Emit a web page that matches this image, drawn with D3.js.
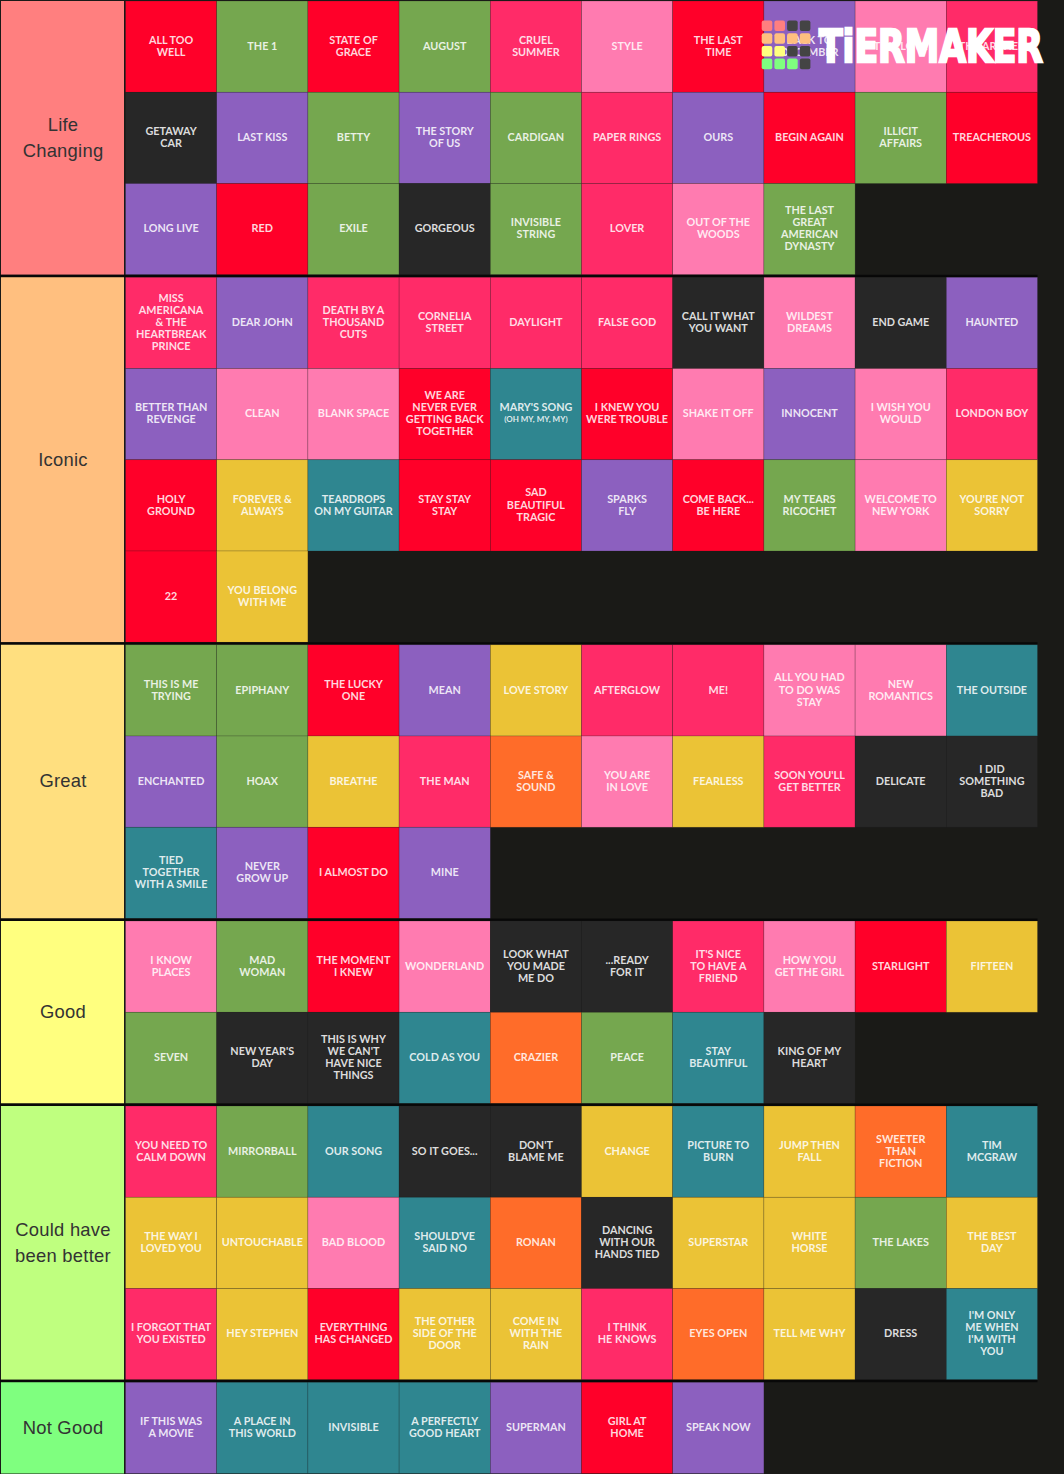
<!DOCTYPE html>
<html>
<head>
<meta charset="utf-8">
<script src="https://cdn.jsdelivr.net/npm/d3@7"></script>
<style>
html, body { margin: 0; padding: 0; background: #1a1a17; }
svg { display: block; }
</style>
</head>
<body>
<svg id="chart"></svg>
<script>
// tiers, top to bottom
var tierLabels = ["Life|Changing", "Iconic", "Great", "Good", "Could have|been better", "Not Good"];
var tierColors = ["#ff7f7f", "#ffbf7f", "#ffdf7f", "#ffff7f", "#bfff7f", "#7fff7f"];

// album of each song decides the cell colour
var albumKeys = ["red", "folklore", "speakNow", "lover", "style1989", "reputation", "debut", "fearless", "other"];
var albumColors = ["#ff0029", "#75a74f", "#8c60bf", "#ff2b68", "#ff7bb0", "#272727", "#2f8690", "#ebc336", "#ff6c29"];

// "|" is a line break on the tile
var lifeChangingSongs = ["ALL TOO|WELL", "THE 1", "STATE OF|GRACE", "AUGUST", "CRUEL|SUMMER", "STYLE", "THE LAST|TIME", "BACK TO|DECEMBER", "THIS LOVE", "THE ARCHER",
  "GETAWAY|CAR", "LAST KISS", "BETTY", "THE STORY|OF US", "CARDIGAN", "PAPER RINGS", "OURS", "BEGIN AGAIN", "ILLICIT|AFFAIRS", "TREACHEROUS",
  "LONG LIVE", "RED", "EXILE", "GORGEOUS", "INVISIBLE|STRING", "LOVER", "OUT OF THE|WOODS", "THE LAST|GREAT|AMERICAN|DYNASTY"];
var lifeChangingAlbums = ["red", "folklore", "red", "folklore", "lover", "style1989", "red", "speakNow", "style1989", "lover",
  "reputation", "speakNow", "folklore", "speakNow", "folklore", "lover", "speakNow", "red", "folklore", "red",
  "speakNow", "red", "folklore", "reputation", "folklore", "lover", "style1989", "folklore"];

var iconicSongs = ["MISS|AMERICANA|& THE|HEARTBREAK|PRINCE", "DEAR JOHN", "DEATH BY A|THOUSAND|CUTS", "CORNELIA|STREET", "DAYLIGHT", "FALSE GOD", "CALL IT WHAT|YOU WANT", "WILDEST|DREAMS", "END GAME", "HAUNTED",
  "BETTER THAN|REVENGE", "CLEAN", "BLANK SPACE", "WE ARE|NEVER EVER|GETTING BACK|TOGETHER", "MARY'S SONG|(OH MY, MY, MY)", "I KNEW YOU|WERE TROUBLE", "SHAKE IT OFF", "INNOCENT", "I WISH YOU|WOULD", "LONDON BOY",
  "HOLY|GROUND", "FOREVER &|ALWAYS", "TEARDROPS|ON MY GUITAR", "STAY STAY|STAY", "SAD|BEAUTIFUL|TRAGIC", "SPARKS|FLY", "COME BACK...|BE HERE", "MY TEARS|RICOCHET", "WELCOME TO|NEW YORK", "YOU'RE NOT|SORRY",
  "22", "YOU BELONG|WITH ME"];
var iconicAlbums = ["lover", "speakNow", "lover", "lover", "lover", "lover", "reputation", "style1989", "reputation", "speakNow",
  "speakNow", "style1989", "style1989", "red", "debut", "red", "style1989", "speakNow", "style1989", "lover",
  "red", "fearless", "debut", "red", "red", "speakNow", "red", "folklore", "style1989", "fearless",
  "red", "fearless"];

var greatSongs = ["THIS IS ME|TRYING", "EPIPHANY", "THE LUCKY|ONE", "MEAN", "LOVE STORY", "AFTERGLOW", "ME!", "ALL YOU HAD|TO DO WAS|STAY", "NEW|ROMANTICS", "THE OUTSIDE",
  "ENCHANTED", "HOAX", "BREATHE", "THE MAN", "SAFE &|SOUND", "YOU ARE|IN LOVE", "FEARLESS", "SOON YOU'LL|GET BETTER", "DELICATE", "I DID|SOMETHING|BAD",
  "TIED|TOGETHER|WITH A SMILE", "NEVER|GROW UP", "I ALMOST DO", "MINE"];
var greatAlbums = ["folklore", "folklore", "red", "speakNow", "fearless", "lover", "lover", "style1989", "style1989", "debut",
  "speakNow", "folklore", "fearless", "lover", "other", "style1989", "fearless", "lover", "reputation", "reputation",
  "debut", "speakNow", "red", "speakNow"];

var goodSongs = ["I KNOW|PLACES", "MAD|WOMAN", "THE MOMENT|I KNEW", "WONDERLAND", "LOOK WHAT|YOU MADE|ME DO", "...READY|FOR IT", "IT'S NICE|TO HAVE A|FRIEND", "HOW YOU|GET THE GIRL", "STARLIGHT", "FIFTEEN",
  "SEVEN", "NEW YEAR'S|DAY", "THIS IS WHY|WE CAN'T|HAVE NICE|THINGS", "COLD AS YOU", "CRAZIER", "PEACE", "STAY|BEAUTIFUL", "KING OF MY|HEART"];
var goodAlbums = ["style1989", "folklore", "red", "style1989", "reputation", "reputation", "lover", "style1989", "red", "fearless",
  "folklore", "reputation", "reputation", "debut", "other", "folklore", "debut", "reputation"];

var couldHaveSongs = ["YOU NEED TO|CALM DOWN", "MIRRORBALL", "OUR SONG", "SO IT GOES...", "DON'T|BLAME ME", "CHANGE", "PICTURE TO|BURN", "JUMP THEN|FALL", "SWEETER|THAN|FICTION", "TIM|MCGRAW",
  "THE WAY I|LOVED YOU", "UNTOUCHABLE", "BAD BLOOD", "SHOULD'VE|SAID NO", "RONAN", "DANCING|WITH OUR|HANDS TIED", "SUPERSTAR", "WHITE|HORSE", "THE LAKES", "THE BEST|DAY",
  "I FORGOT THAT|YOU EXISTED", "HEY STEPHEN", "EVERYTHING|HAS CHANGED", "THE OTHER|SIDE OF THE|DOOR", "COME IN|WITH THE|RAIN", "I THINK|HE KNOWS", "EYES OPEN", "TELL ME WHY", "DRESS", "I'M ONLY|ME WHEN|I'M WITH|YOU"];
var couldHaveAlbums = ["lover", "folklore", "debut", "reputation", "reputation", "fearless", "debut", "fearless", "other", "debut",
  "fearless", "fearless", "style1989", "debut", "other", "reputation", "fearless", "fearless", "folklore", "fearless",
  "lover", "fearless", "red", "fearless", "fearless", "lover", "other", "fearless", "reputation", "debut"];

var notGoodSongs = ["IF THIS WAS|A MOVIE", "A PLACE IN|THIS WORLD", "INVISIBLE", "A PERFECTLY|GOOD HEART", "SUPERMAN", "GIRL AT|HOME", "SPEAK NOW"];
var notGoodAlbums = ["speakNow", "debut", "debut", "debut", "speakNow", "red", "speakNow"];

var tierSongs = [lifeChangingSongs, iconicSongs, greatSongs, goodSongs, couldHaveSongs, notGoodSongs];
var tierAlbums = [lifeChangingAlbums, iconicAlbums, greatAlbums, goodAlbums, couldHaveAlbums, notGoodAlbums];

// watermark squares, row by row
var logoColors = [
  ["#ff7f7f", "#ff7f7f", "#444", "#444"],
  ["#ffbf7f", "#ffbf7f", "#ffbf7f", "#ffbf7f"],
  ["#ffff7f", "#ffff7f", "#444", "#444"],
  ["#7fff7f", "#7fff7f", "#7fff7f", "#444"]
];

var width = 1064, height = 1474;
var perRow = 10;
var labelW = 123;
var gridLeft = 125.5, gridRight = 1037.5;
var tierGap = 2.5, top0 = 1, rowH = 91.25;

var svg = d3.select("#chart").attr("width", width).attr("height", height);

var x = d3.scaleBand().domain(d3.range(perRow)).range([gridLeft, gridRight]);
var album = d3.scaleOrdinal().domain(albumKeys).range(albumColors);

// rows counted over the whole page, tier gaps added on top
var rowCounts = tierSongs.map(function(s) { return Math.ceil(s.length / perRow); });
var totalRows = d3.sum(rowCounts);
var y = d3.scaleLinear().domain([0, totalRows]).range([top0, top0 + totalRows * rowH]);

var rowsBefore = 0;
tierSongs.forEach(function(songs, t) {
  var rows = rowCounts[t];
  var tierTop = y(rowsBefore) + t * tierGap;
  var tierH = rows * rowH;

  var g = svg.append("g").attr("class", "tier");

  // the bar between two tiers is darker than the page
  if (t > 0) {
    g.append("rect")
      .attr("x", 0)
      .attr("y", tierTop - tierGap)
      .attr("width", gridRight)
      .attr("height", tierGap)
      .attr("fill", "#080808");
  }

  g.append("rect")
    .attr("x", 1)
    .attr("y", tierTop)
    .attr("width", labelW)
    .attr("height", tierH)
    .attr("fill", tierColors[t]);

  var labelLines = tierLabels[t].split("|");
  g.append("g").selectAll("text")
    .data(labelLines)
    .enter().append("text")
      .attr("x", 1.5 + labelW / 2)
      .attr("y", function(d, i) { return tierTop + tierH / 2 - 0.6 + (i - (labelLines.length - 1) / 2) * 25.6; })
      .attr("dy", "0.35em")
      .attr("text-anchor", "middle")
      .attr("font-family", "'Liberation Sans', Arial, sans-serif")
      .attr("font-size", 18.4)
      .attr("letter-spacing", 0.25)
      .attr("fill", "#333")
      .text(function(d) { return d; });

  var cells = g.selectAll(".cell")
    .data(songs.map(function(name, i) { return {name: name, album: tierAlbums[t][i], i: i}; }))
    .enter().append("g")
      .attr("class", "cell")
      .attr("transform", function(d) {
        return "translate(" + x(d.i % perRow) + "," + (tierTop + Math.floor(d.i / perRow) * rowH) + ")";
      });

  cells.append("rect")
    .attr("width", x.bandwidth())
    .attr("height", rowH)
    .attr("fill", function(d) { return album(d.album); })
    .attr("stroke", "rgba(30,30,30,0.35)")
    .attr("stroke-width", 0.6);

  cells.each(function(d) {
    var lines = d.name.split("|");
    d3.select(this).selectAll("text")
      .data(lines)
      .enter().append("text")
        .attr("x", x.bandwidth() / 2)
        .attr("y", function(l, i) { return rowH / 2 - 0.6 + (i - (lines.length - 1) / 2) * 12.1; })
        .attr("dy", "0.35em")
        .attr("text-anchor", "middle")
        .attr("font-family", "Lato, sans-serif")
        .attr("font-weight", 700)
        .attr("font-size", function(l) { return l.charAt(0) == "(" ? 8 : 10.8; })
        .attr("fill", "#fff")
        .attr("fill-opacity", 0.85)
        .text(function(l) { return l; });
  });

  rowsBefore += rows;
});

// TierMaker watermark sits over the first row
var logo = svg.append("g").attr("class", "logo");
logo.selectAll("g")
  .data(logoColors)
  .enter().append("g")
  .selectAll("rect")
  .data(function(row, r) { return row.map(function(c, i) { return {c: c, r: r, i: i}; }); })
  .enter().append("rect")
    .attr("x", function(d) { return 761.7 + d.i * 12.7; })
    .attr("y", function(d) { return 20.5 + d.r * 12.7; })
    .attr("width", 10.6)
    .attr("height", 10.6)
    .attr("rx", 2)
    .attr("fill", function(d) { return d.c; });

logo.append("text")
  .attr("x", 819)
  .attr("y", 62)
  .attr("textLength", 224)
  .attr("lengthAdjust", "spacingAndGlyphs")
  .attr("font-family", "'DejaVu Sans', sans-serif")
  .attr("font-weight", 700)
  .attr("font-size", 44)
  .attr("fill", "#fff")
  .attr("stroke", "#fff")
  .attr("stroke-width", 2.4)
  .attr("stroke-linejoin", "miter")
  .text("TiERMAKER");
</script>
</body>
</html>
